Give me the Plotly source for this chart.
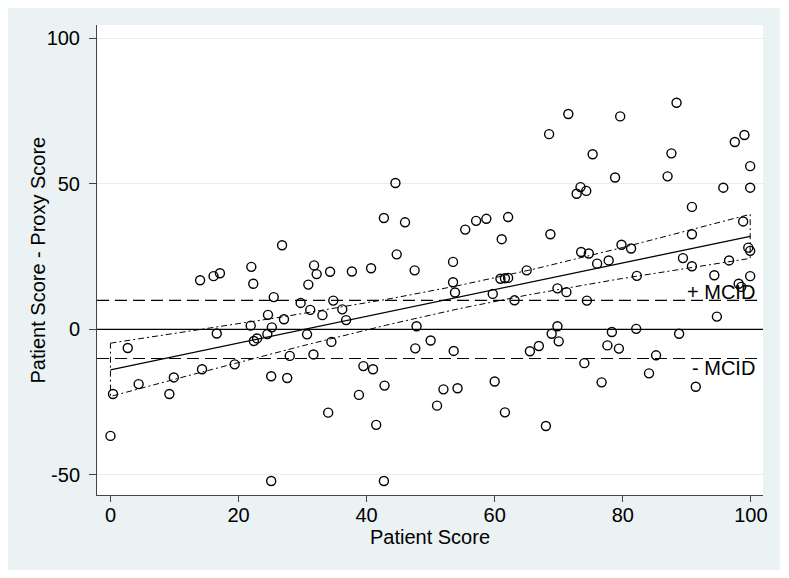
import numpy as np
import plotly.graph_objects as go

# Patient score (x) and difference Patient - Proxy (y)
patient_score = [
    0, 0.4, 2.7, 4.4, 9.2, 9.9, 14.3, 14.0, 16.1, 17.1, 16.6, 19.4, 22.0, 22.3, 21.9, 22.4, 22.9,
    24.6, 25.2, 24.5, 25.5, 25.1, 25.1, 26.8, 27.1, 28.0, 27.6, 29.7, 30.7, 31.2, 30.9, 31.8, 32.2,
    31.7, 33.1, 34.3, 34.8, 34.5, 34.0, 36.2, 36.8, 37.7, 39.5, 38.8, 40.7, 41.0, 41.5, 42.8, 42.7,
    44.7, 44.5, 42.7, 46.0, 47.5, 47.8, 47.6, 50.0, 53.5, 53.5, 53.8, 53.6, 52.0, 54.2, 51.0, 55.4,
    57.1, 58.7, 62.1, 61.1, 60.9, 61.6, 62.1, 59.7, 63.1, 60.0, 61.6, 65.0, 65.5, 66.9, 68.0, 68.9,
    69.8, 70.0, 69.8, 71.2, 68.5, 68.7, 71.5, 73.4, 72.8, 74.3, 75.3, 73.5, 74.7, 74.0, 74.4, 76.0,
    77.8, 76.7, 77.6, 78.3, 79.4, 78.8, 79.6, 79.8, 81.3, 82.1, 82.2, 84.1, 85.2, 87.0, 87.6, 88.4,
    88.8, 89.4, 90.8, 90.8, 90.8, 91.4, 94.3, 94.7, 95.7, 96.6, 97.5, 99.0, 99.9, 99.9, 98.8, 99.6,
    99.9, 98.1, 98.5, 99.9,
]
score_diff = [
    -36.6, -22.2, -6.4, -18.8, -22.2, -16.5, -13.7, 16.9, 18.3, 19.3, -1.4, -12.0, 21.5, 15.7, 1.3,
    -4.0, -3.1, 5.0, 0.7, -1.6, 11.1, -16.1, -52.1, 28.9, 3.5, -9.1, -16.7, 9.1, -1.7, 6.7, 15.4,
    22.0, 19.0, -8.6, 4.9, 19.8, 9.9, -4.3, -28.6, 6.9, 3.2, 19.9, -12.6, -22.5, 21.0, -13.7, -32.8,
    -19.3, -52.1, 25.8, 50.3, 38.3, 36.8, 20.3, 1.1, -6.5, -3.8, 23.2, 16.2, 12.7, -7.4, -20.6, -20.2,
    -26.2, 34.3, 37.3, 38.0, 38.6, 31.0, 17.4, 17.6, 17.7, 12.2, 10.0, -17.9, -28.5, 20.3, -7.5, -5.7,
    -33.2, -1.5, 1.1, -4.1, 14.1, 12.8, 67.1, 32.7, 74.0, 48.9, 46.6, 47.6, 60.2, 26.6, 26.1, -11.6,
    9.9, 22.6, 23.7, -18.2, -5.5, -0.9, -6.6, 52.2, 73.2, 29.1, 27.8, 0.2, 18.4, -15.1, -8.9, 52.6,
    60.5, 77.9, -1.5, 24.5, 42.1, 32.7, 21.7, -19.7, 18.6, 4.4, 48.7, 23.7, 64.4, 66.8, 56.1, 48.7,
    37.1, 28.1, 27.0, 15.7, 14.6, 18.3,
]

mcid = 10
x_ticks = [0, 20, 40, 60, 80, 100]
y_ticks = [-50, 0, 50, 100]
y_tick_text = ["-50", "0", "50", "100"]
mcid_labels = ["+ MCID", "- MCID"]
x_title = "Patient Score"
y_title = "Patient Score - Proxy Score"

# Linear fit and 95% CI of the mean prediction
x = np.array(patient_score, dtype=float)
y = np.array(score_diff, dtype=float)
n = len(x)
b1, b0 = np.polyfit(x, y, 1)
resid = y - (b0 + b1 * x)
s = np.sqrt(np.sum(resid ** 2) / (n - 2))
sxx = np.sum((x - x.mean()) ** 2)
t_crit = 1.977
grid = np.linspace(x.min(), x.max(), 101)
fit = b0 + b1 * grid
half = t_crit * s * np.sqrt(1.0 / n + (grid - x.mean()) ** 2 / sxx)
upper = fit + half
lower = fit - half

FONT = "Helvetica, Liberation Sans, Arial, sans-serif"
BG = "#eaf2f3"
FS = 20

fig = go.Figure()

# CI outline (closed polygon, dash-dot)
fig.add_trace(go.Scatter(
    x=list(grid) + list(grid[::-1]) + [grid[0]],
    y=list(upper) + list(lower[::-1]) + [upper[0]],
    mode="lines", line=dict(color="black", width=1, dash="6px,3px,2px,3px"),
    hoverinfo="skip", showlegend=False,
))

# Scatter points
fig.add_trace(go.Scatter(
    x=patient_score, y=score_diff, mode="markers",
    marker=dict(symbol="circle-open", size=9, color="black", line=dict(width=1.4, color="black")),
    showlegend=False,
))

# Fitted line
fig.add_trace(go.Scatter(
    x=grid, y=fit, mode="lines", line=dict(color="black", width=1.3), showlegend=False,
))

# Reference lines
fig.add_shape(type="line", xref="paper", x0=0, x1=1, yref="y", y0=0, y1=0,
              line=dict(color="black", width=1.2), layer="above")
for v in (mcid, -mcid):
    fig.add_shape(type="line", xref="paper", x0=0, x1=1, yref="y", y0=v, y1=v,
                  line=dict(color="black", width=1.2, dash="12px,6px"), layer="above")

fig.add_annotation(x=100.9, y=mcid + 2.7, text=mcid_labels[0], showarrow=False,
                   xanchor="right", yanchor="middle", font=dict(family=FONT, size=FS, color="black"))
fig.add_annotation(x=100.9, y=-mcid - 3.1, text=mcid_labels[1], showarrow=False,
                   xanchor="right", yanchor="middle", font=dict(family=FONT, size=FS, color="black"))

# Y axis title as rotated annotation for exact placement
fig.add_annotation(xref="paper", yref="paper", x=-0.0893, y=0.5, text=y_title, textangle=-90,
                   showarrow=False, xanchor="center", yanchor="middle",
                   font=dict(family=FONT, size=FS, color="black"))

# White strips at right and bottom outside the light panel
fig.add_shape(type="rect", xref="paper", yref="paper", x0=1.0255, x1=1.2, y0=-0.3, y1=1.2,
              line=dict(width=0), fillcolor="white", layer="below")
fig.add_shape(type="rect", xref="paper", yref="paper", x0=-0.3, x1=1.2, y0=-0.3, y1=-0.1596,
              line=dict(width=0), fillcolor="white", layer="below")

fig.update_layout(
    width=781, height=570,
    margin=dict(l=89, r=26, t=17, b=83),
    paper_bgcolor=BG, plot_bgcolor="white",
    font=dict(family=FONT, size=FS, color="black"),
    showlegend=False,
    xaxis=dict(
        range=[-2.1, 101.9], tickmode="array", tickvals=x_ticks,
        ticks="outside", ticklen=6, tickcolor="#444", showgrid=False, zeroline=False,
        showline=True, linecolor="#444", linewidth=1,
        title=dict(text=x_title, standoff=0, font=dict(size=FS)),
        tickfont=dict(size=FS), automargin=False, ticklabelstandoff=-4,
    ),
    yaxis=dict(
        range=[-56.9, 104.6], tickmode="array", tickvals=y_ticks, ticktext=y_tick_text,
        ticks="outside", ticklen=7, tickcolor="#444", showgrid=True, gridcolor="#e3eef0",
        gridwidth=1, zeroline=False, showline=True, linecolor="#444", linewidth=1,
        tickfont=dict(size=FS), automargin=False, ticklabelstandoff=5,
    ),
)

fig.write_html("out.html")
